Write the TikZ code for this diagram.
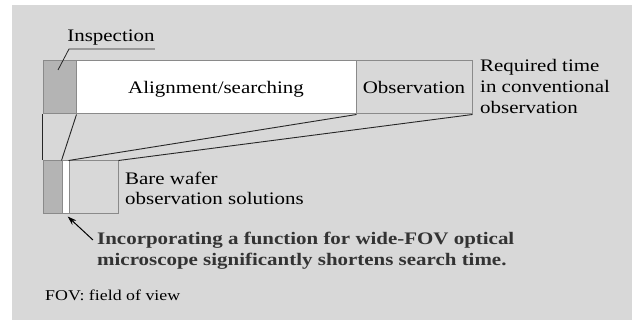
\documentclass[tikz,border=0pt]{standalone}
\usepackage{fontspec}
\setmainfont{Liberation Serif}
\usetikzlibrary{arrows.meta}
\definecolor{bg}{HTML}{D8D8D8}
\definecolor{inspgray}{HTML}{B4B4B4}
\definecolor{edgegray}{HTML}{8A8A8A}
\definecolor{boldtext}{HTML}{333333}
\newcommand{\widetxt}[1]{\scalebox{1.19}[1]{\begin{tabular}[c]{@{}l@{}}#1\end{tabular}}}
\tikzset{
  bar/.style={rectangle, draw=edgegray, line width=1pt, inner sep=0pt, minimum height=53pt},
  lbl/.style={inner sep=0pt, font=\fontsize{17.6}{21}\selectfont, text=black},
  connector/.style={draw=black!85, line width=0.9pt},
}
\begin{document}
\begin{tikzpicture}[x=1pt,y=-1pt]
\useasboundingbox (0,0) rectangle (632,320);
\fill[bg] (12,5) rectangle (632,320);
% top bar
\node[bar, fill=inspgray, minimum width=33pt] (insp1) at (59.5,87.5) {};
\node[bar, fill=white, minimum width=280pt] (align) at (216,87.5) {};
\node[bar, fill=bg, minimum width=116pt] (obs1) at (414,87.5) {};
\node[lbl] (aligntxt) at (216,89) {\widetxt{Alignment/searching}};
\node[lbl] (obstxt) at (414,89) {\widetxt{Observation}};
% bottom bar
\node[bar, fill=inspgray, minimum width=19pt] (insp2) at (52.5,187.5) {};
\node[bar, fill=white, minimum width=7pt] (white2) at (65.5,187.5) {};
\node[bar, fill=bg, minimum width=49pt] (obs2) at (93.5,187.5) {};
% connectors
\draw[connector] (insp1.south west) -- (insp2.north west);
\draw[connector] (insp1.south east) -- (white2.north west);
\draw[connector] (align.south east) -- (obs2.north west);
\draw[connector] (obs1.south east) -- (obs2.north east);
% inspection label
\node[lbl] (insptxt) at (111,37) {\widetxt{Inspection}};
\coordinate (leadend) at (58,70);
\coordinate (leadknee) at (69,49);
\draw[black!85, line width=0.8pt] (leadend) -- (leadknee) -- (insptxt.south east |- leadknee);
% right label
\node[lbl, anchor=west] (reqtxt) at (480,88) {\widetxt{Required time\\in conventional\\observation}};
% bare wafer label
\node[lbl, anchor=west, font=\fontsize{17.6}{20}\selectfont] (baretxt) at (125,191) {\widetxt{Bare wafer\\observation solutions}};
% bold note
\node[lbl, anchor=west, text=boldtext, font=\fontsize{17.6}{21}\selectfont\bfseries] (note) at (97,250.5) {\widetxt{Incorporating a function for wide-FOV optical\\microscope significantly shortens search time.}};
\coordinate (arrtail) at (93,240);
\draw[black, line width=1pt, -{Stealth[length=9pt,width=6pt]}, shorten >=3pt] (arrtail) -- (white2.south);
% footnote
\node[lbl, anchor=west, font=\fontsize{15}{18}\selectfont] (fov) at (45,297) {\widetxt{FOV: field of view}};
\end{tikzpicture}
\end{document}
